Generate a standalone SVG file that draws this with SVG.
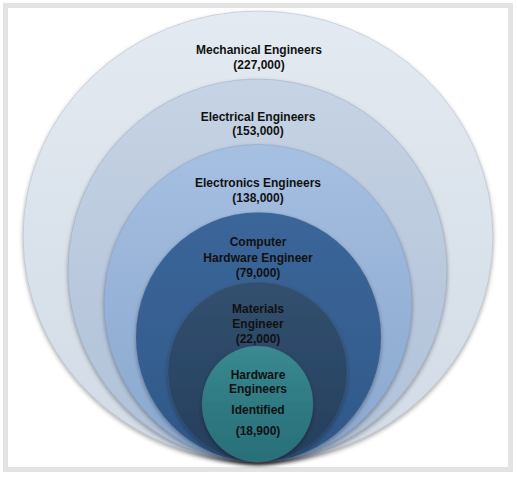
<svg xmlns="http://www.w3.org/2000/svg" width="517" height="478" viewBox="0 0 517 478">
<style>
  .lbl { font-family: "Liberation Sans", Arial, sans-serif; font-weight: bold; font-size: 12px; fill: #111; text-anchor: middle; }
  .ring { filter: url(#sh); stroke: #5a6a80; stroke-opacity: 0.25; stroke-width: 0.8; }
</style>
<defs>
  <filter id="sh" x="-10%" y="-10%" width="120%" height="125%">
    <feDropShadow dx="0" dy="2" stdDeviation="2.2" flood-color="#000" flood-opacity="0.35"/>
  </filter>
  <linearGradient id="g1" x1="0" y1="0" x2="0" y2="1">
    <stop offset="0" stop-color="#e4eaf1"/>
    <stop offset="0.5" stop-color="#dae2eb"/>
    <stop offset="1" stop-color="#d2dbe6"/>
  </linearGradient>
  <linearGradient id="g2" x1="0" y1="0" x2="0" y2="1">
    <stop offset="0" stop-color="#c6d3e4"/>
    <stop offset="0.5" stop-color="#bac9dd"/>
    <stop offset="1" stop-color="#b0c1d8"/>
  </linearGradient>
  <linearGradient id="g3" x1="0" y1="0" x2="0" y2="1">
    <stop offset="0" stop-color="#a6c0e2"/>
    <stop offset="0.5" stop-color="#96b2d6"/>
    <stop offset="1" stop-color="#8aa8cf"/>
  </linearGradient>
  <linearGradient id="g4" x1="0" y1="0" x2="0" y2="1">
    <stop offset="0" stop-color="#3b6699"/>
    <stop offset="0.5" stop-color="#365f91"/>
    <stop offset="1" stop-color="#305787"/>
  </linearGradient>
  <linearGradient id="g5" x1="0" y1="0" x2="0" y2="1">
    <stop offset="0" stop-color="#32506f"/>
    <stop offset="0.5" stop-color="#2b4766"/>
    <stop offset="1" stop-color="#263f5c"/>
  </linearGradient>
  <linearGradient id="g6" x1="0" y1="0" x2="0" y2="1">
    <stop offset="0" stop-color="#3a8a92"/>
    <stop offset="0.5" stop-color="#2f7a83"/>
    <stop offset="1" stop-color="#2a6f78"/>
  </linearGradient>
</defs>
<rect x="0" y="0" width="517" height="478" fill="#ffffff"/>
<rect x="5.5" y="5.5" width="505" height="464" fill="#ffffff" stroke="#e3e3e3" stroke-width="5"/>

<g id="mechanical">
  <ellipse class="ring" cx="258" cy="236.5" rx="235" ry="225.5" fill="url(#g1)"/>
  <text class="lbl" x="259" y="54">Mechanical Engineers</text>
  <text class="lbl" x="259" y="68.5">(227,000)</text>
</g>
<g id="electrical">
  <ellipse class="ring" cx="257.5" cy="270.5" rx="189.5" ry="191.5" fill="url(#g2)"/>
  <text class="lbl" x="258" y="120.5">Electrical Engineers</text>
  <text class="lbl" x="258" y="135">(153,000)</text>
</g>
<g id="electronics">
  <ellipse class="ring" cx="258" cy="303.2" rx="154" ry="158.8" fill="url(#g3)"/>
  <text class="lbl" x="258" y="186.5">Electronics Engineers</text>
  <text class="lbl" x="258" y="201.5">(138,000)</text>
</g>
<g id="computer-hardware">
  <ellipse class="ring" cx="258.5" cy="337.2" rx="122.5" ry="124.8" fill="url(#g4)"/>
  <text class="lbl" x="258" y="246">Computer</text>
  <text class="lbl" x="258" y="261.5">Hardware Engineer</text>
  <text class="lbl" x="258" y="277">(79,000)</text>
</g>
<g id="materials">
  <ellipse class="ring" cx="257.5" cy="372" rx="89.5" ry="90" fill="url(#g5)"/>
  <text class="lbl" x="258" y="313.3">Materials</text>
  <text class="lbl" x="258" y="327.5">Engineer</text>
  <text class="lbl" x="258" y="343">(22,000)</text>
</g>
<g id="hardware-identified">
  <ellipse class="ring" cx="257.5" cy="404" rx="55.5" ry="58" fill="url(#g6)"/>
  <text class="lbl" x="258" y="378.5">Hardware</text>
  <text class="lbl" x="258" y="393">Engineers</text>
  <text class="lbl" x="258" y="413.5">Identified</text>
  <text class="lbl" x="258" y="434.5">(18,900)</text>
</g>
</svg>
